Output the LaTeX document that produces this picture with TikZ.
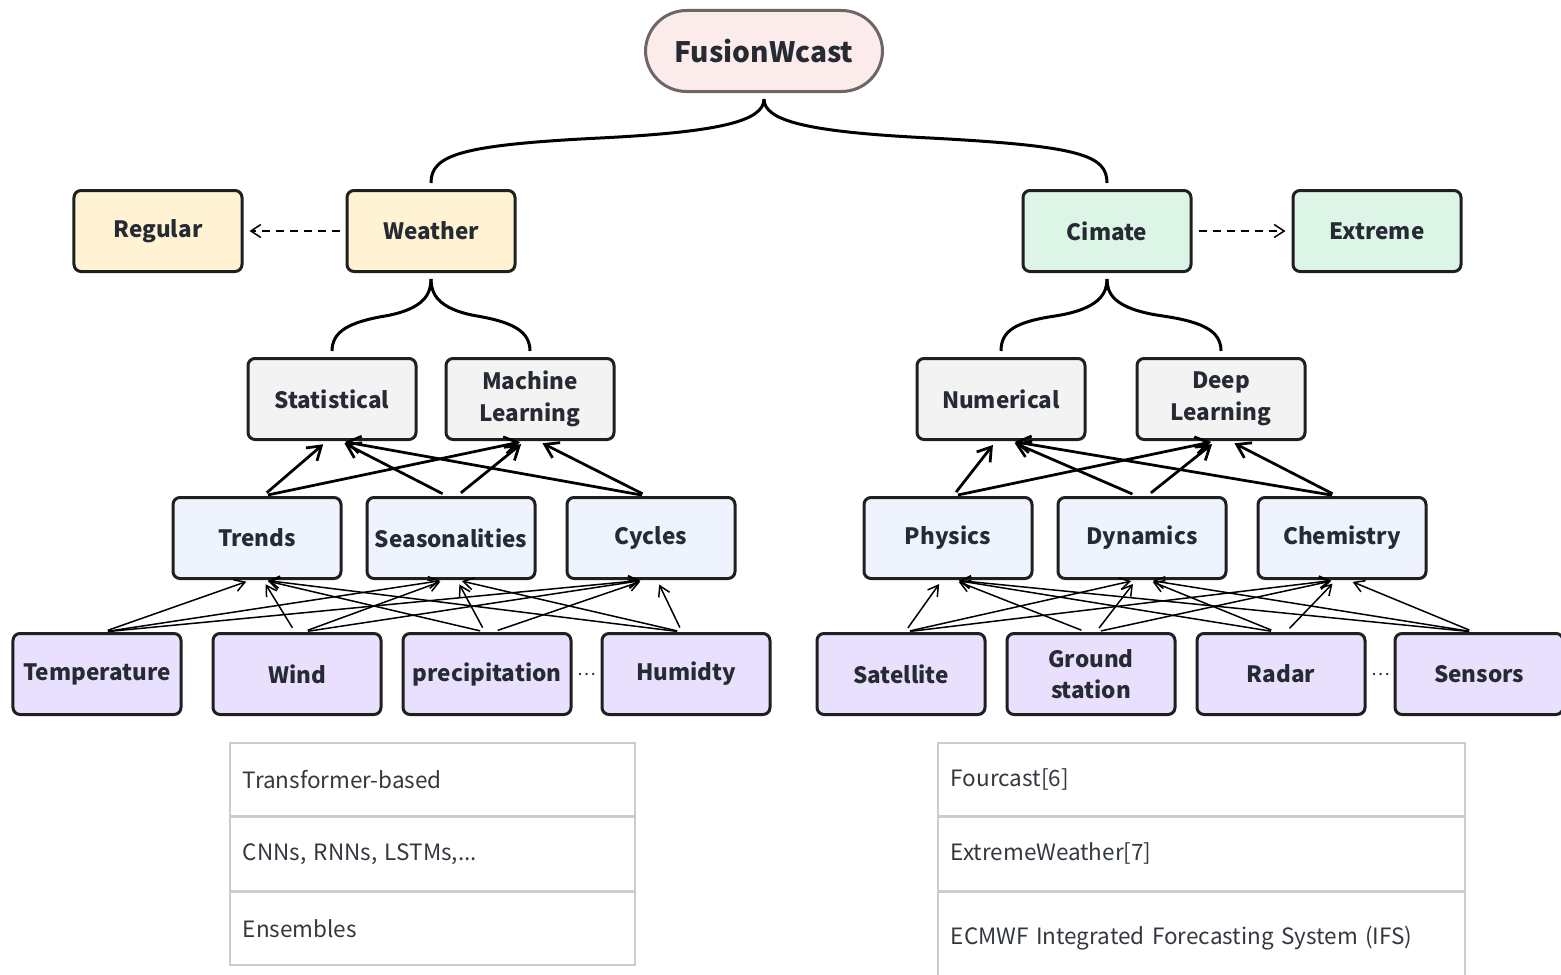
\documentclass[tikz,border=0pt]{standalone}
\usepackage{fontspec}
\setmainfont{Noto Sans CJK SC}
\usepackage{xcolor}
\usepackage{tikz}
\usetikzlibrary{arrows.meta}

\definecolor{ink}{HTML}{262A33}
\definecolor{pinkfill}{HTML}{FCEBEB}
\definecolor{pinkline}{HTML}{6F6565}
\definecolor{yellowfill}{HTML}{FFF3D4}
\definecolor{greenfill}{HTML}{DDF5E7}
\definecolor{grayfill}{HTML}{F3F3F3}
\definecolor{bluefill}{HTML}{EEF3FD}
\definecolor{purplefill}{HTML}{E8E0FD}
\definecolor{cellline}{HTML}{C9CDD2}
\definecolor{celltext}{HTML}{33383E}

\begin{document}
\begin{tikzpicture}[x=0.2mm,y=-0.2mm,
    box/.style={draw=black!88, line width=0.6mm, rounded corners=1.4mm, minimum width=33.6mm, minimum height=16.2mm,
      align=center, text=ink, font=\bfseries\fontsize{12.8}{18}\selectfont, inner sep=1pt},
    thick arrow/.style={line width=0.55mm, -{Straight Barb[length=2.6mm,width=3.4mm]}, shorten <=1mm, shorten >=1mm},
    thin arrow/.style={line width=0.3mm, -{Straight Barb[length=2mm,width=2.4mm]}, shorten <=1mm, shorten >=1mm},
    dash arrow/.style={line width=0.3mm, dash pattern=on 1.6mm off 1.2mm, -{Straight Barb[length=2mm,width=2.6mm]}, shorten <=1.2mm, shorten >=1.2mm},
    brace/.style={line width=0.6mm, shorten <=1.2mm, shorten >=1.2mm},
    cell/.style={draw=cellline, line width=0.3mm, anchor=north west, minimum height=14.6mm, align=left,
      text=celltext, font=\fontsize{12.8}{16}\selectfont, inner xsep=2.6mm}]
\useasboundingbox (0,0) rectangle (1561,974);

\node[box, fill=pinkfill, draw=pinkline, rounded corners=8.2mm, minimum width=47.4mm, font=\bfseries\fontsize{16}{20}\selectfont] (fusion) at (764,51) {FusionWcast};

\node[box, fill=yellowfill] (regular) at (158,231) {Regular};
\node[box, fill=yellowfill] (weather) at (431,231) {Weather};
\node[box, fill=greenfill] (climate) at (1107,231) {Cimate};
\node[box, fill=greenfill] (extreme) at (1377,231) {Extreme};

\node[box, fill=grayfill] (stat) at (332,399) {Statistical};
\node[box, fill=grayfill] (ml) at (530,399) {Machine\\Learning};
\node[box, fill=grayfill] (num) at (1001,399) {Numerical};
\node[box, fill=grayfill] (dl) at (1221,399) {Deep\\Learning};

\node[box, fill=bluefill] (trends) at (257,538) {Trends};
\node[box, fill=bluefill] (seas) at (451,538) {Seasonalities};
\node[box, fill=bluefill] (cycles) at (651,538) {Cycles};
\node[box, fill=bluefill] (physics) at (948,538) {Physics};
\node[box, fill=bluefill] (dyn) at (1142,538) {Dynamics};
\node[box, fill=bluefill] (chem) at (1342,538) {Chemistry};

\node[box, fill=purplefill] (temp) at (97,674) {Temperature};
\node[box, fill=purplefill] (wind) at (297,674) {Wind};
\node[box, fill=purplefill] (precip) at (487,674) {precipitation};
\node[box, fill=purplefill] (humid) at (686,674) {Humidty};
\node[text=ink, font=\fontsize{10}{10}\selectfont] (wdots) at (587,674) {…};
\node[box, fill=purplefill] (sat) at (901,674) {Satellite};
\node[box, fill=purplefill] (ground) at (1091,674) {Ground\\station};
\node[box, fill=purplefill] (radar) at (1281,674) {Radar};
\node[box, fill=purplefill] (sensors) at (1479,674) {Sensors};
\node[text=ink, font=\fontsize{10}{10}\selectfont] (cdots) at (1381,674) {…};

\draw[brace] (weather.north) .. controls +(0,-34) and +(-140,7) .. (600,138) .. controls +(120,-6) and +(0,28) .. (fusion.south);
\draw[brace] (climate.north) .. controls +(0,-34) and +(150,8) .. (930,138) .. controls +(-122,-6) and +(0,28) .. (fusion.south);
\draw[brace] (stat.north) .. controls +(0,-26) and +(-35,6) .. (385,316) .. controls +(40,-7) and +(0,20) .. (weather.south);
\draw[brace] (ml.north) .. controls +(0,-26) and +(35,6) .. (477,316) .. controls +(-40,-7) and +(0,20) .. (weather.south);
\draw[brace] (num.north) .. controls +(0,-26) and +(-40,6) .. (1055,316) .. controls +(45,-7) and +(0,20) .. (climate.south);
\draw[brace] (dl.north) .. controls +(0,-26) and +(40,6) .. (1163,316) .. controls +(-50,-7) and +(0,20) .. (climate.south);

\draw[dash arrow] (weather.west) -- (regular.east);
\draw[dash arrow] (climate.east) -- (extreme.west);

\foreach \s/\t/\a/\b in {trends/stat/6/-5, trends/ml/6/-5, seas/stat/-4/8, seas/ml/6/-5, cycles/stat/-4/8, cycles/ml/-4/8,
    physics/num/5/-5, physics/dl/5/-5, dyn/num/-5/9, dyn/dl/5/-5, chem/num/-5/9, chem/dl/-5/9}
  \draw[thick arrow] ([xshift=\a*0.2mm]\s.north) -- ([xshift=\b*0.2mm]\t.south);

\foreach \s/\t/\a/\b in {temp/trends/6/-6, temp/seas/6/-6, temp/cycles/6/-6,
    wind/trends/-2/6, wind/seas/6/-6, wind/cycles/6/-6,
    precip/trends/-2/6, precip/seas/-2/6, precip/cycles/6/-6,
    humid/trends/-4/6, humid/seas/-4/6, humid/cycles/-4/6,
    sat/physics/4/-6, sat/dyn/4/-6, sat/chem/4/-6,
    ground/physics/-5/6, ground/dyn/5/-6, ground/chem/5/-6,
    radar/physics/-5/6, radar/dyn/-5/6, radar/chem/5/-6,
    sensors/physics/-5/6, sensors/dyn/-5/6, sensors/chem/-5/6}
  \draw[thin arrow] ([xshift=\a*0.2mm]\s.north) -- ([xshift=\b*0.2mm]\t.south);

\node[cell, minimum width=81mm, text width=75.8mm] (w1) at (229,742) {Transformer-based};
\node[cell, minimum width=81mm, text width=75.8mm] (w2) at (w1.south west) {CNNs, RNNs, LSTMs,...};
\node[cell, minimum width=81mm, text width=75.8mm] (w3) at (w2.south west) {Ensembles};

\node[cell, minimum width=105.4mm, text width=100.2mm] (c1) at (937,742) {Fourcast[6]};
\node[cell, minimum width=105.4mm, text width=100.2mm] (c2) at (c1.south west) {ExtremeWeather[7]};
\node[cell, minimum width=105.4mm, text width=100.2mm, minimum height=18.4mm] (c3) at (c2.south west) {ECMWF Integrated Forecasting System (IFS)};
\end{tikzpicture}
\end{document}
